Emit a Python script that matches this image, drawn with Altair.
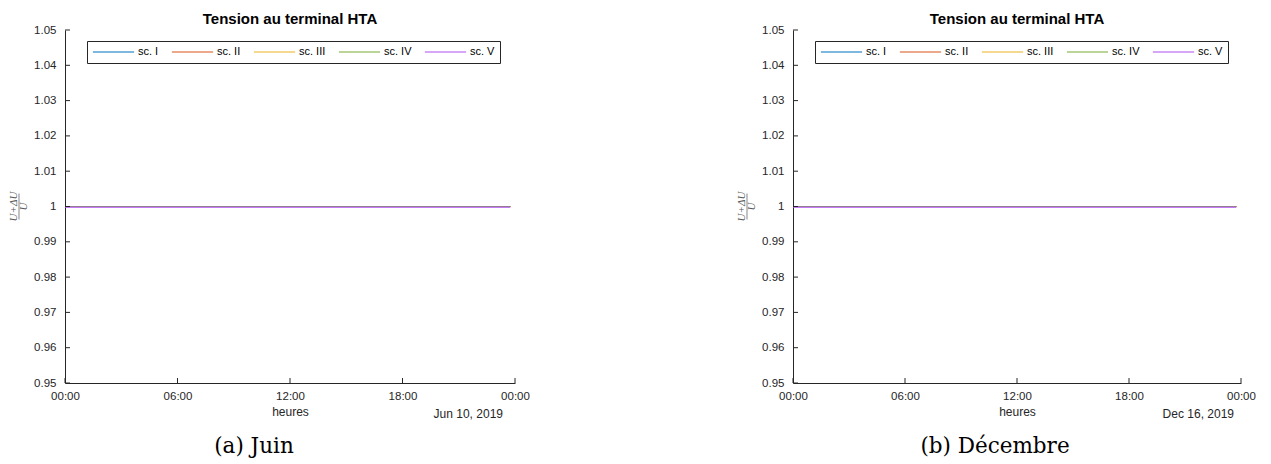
import altair as alt
import pandas as pd

# ---------------- data ----------------
scenarios = ["sc. I", "sc. II", "sc. III", "sc. IV", "sc. V"]
colors = ["#0072BD", "#D95319", "#EDB120", "#77AC30", "#B04FF0"]

# quarter-hour time stamps of one day (the curves stop at 23:45)
quarter_hours = [f"{h:02d}:{m:02d}" for h in range(24) for m in (0, 15, 30, 45)]

# per-unit voltage level of every scenario (flat all day in both months)
tension_juin = [1.0000, 1.0000, 1.0000, 1.0000, 0.9998]
tension_decembre = [1.0000, 1.0000, 1.0000, 1.0000, 0.9998]

x_tick_hours = [0, 6, 12, 18, 24]
y_ticks = [0.95, 0.96, 0.97, 0.98, 0.99, 1.00, 1.01, 1.02, 1.03, 1.04, 1.05]

FONT = "Liberation Sans"
INK = "#262626"
W_L, W_R, H = 450, 448, 353


def panel(year, month, day, levels, date_label, caption, title, width, cap_dx, date_right):
    iso = f"{year:04d}-{month:02d}-{day:02d}"
    rows = [
        {"t": f"{iso}T{q}:00", "sc": s, "v": lv}
        for s, lv in zip(scenarios, levels)
        for q in quarter_hours
    ]
    df = pd.DataFrame(rows)
    start = alt.DateTime(year=year, month=month, date=day, hours=0)
    end = alt.DateTime(year=year, month=month, date=day + 1, hours=0)
    tick_vals = [
        alt.DateTime(year=year, month=month, date=day + h // 24, hours=h % 24)
        for h in x_tick_hours
    ]
    xscale = alt.Scale(domain=[start, end])
    yscale = alt.Scale(domain=[0.95, 1.05])
    x_axis = alt.Axis(
        values=tick_vals, format="%H:%M", ticks=False, grid=False,
        domainColor=INK, domainWidth=1, labelFont=FONT, labelFontSize=11.5,
        labelColor=INK, labelPadding=7, labelFlush=False, labelOverlap=False,
        title="heures", titleFont=FONT, titleFontSize=12,
        titleFontWeight="normal", titleColor=INK, titlePadding=5,
    )
    y_axis = alt.Axis(
        values=y_ticks, labelExpr="format(datum.value, '.2~f')",
        ticks=False, grid=False, domainColor=INK, domainWidth=1,
        labelFont=FONT, labelFontSize=11.5, labelColor=INK,
        labelPadding=9, labelOverlap=False, title=None,
    )

    lines = alt.Chart(df).mark_line(strokeWidth=1.2, clip=True).encode(
        x=alt.X("t:T", scale=xscale, axis=x_axis),
        y=alt.Y("v:Q", scale=yscale, axis=y_axis),
        color=alt.Color(
            "sc:N",
            scale=alt.Scale(domain=scenarios, range=colors),
            legend=alt.Legend(
                orient="none", legendX=22, legendY=11, direction="horizontal",
                columns=5, title=None, symbolType="stroke", symbolSize=1700,
                symbolStrokeWidth=1.2, labelFont=FONT, labelFontSize=11,
                labelColor="#000000", labelOffset=3, columnPadding=12,
                padding=5, strokeColor=INK, fillColor="white", clipHeight=12,
                cornerRadius=0, labelLimit=80,
            ),
        ),
    )

    xt = pd.DataFrame({"t": [
        f"{year:04d}-{month:02d}-{day + h // 24:02d}T{h % 24:02d}:00:00" for h in x_tick_hours
    ]})
    xticks = alt.Chart(xt).mark_rule(color=INK, strokeWidth=1).encode(
        x=alt.X("t:T", scale=xscale, axis=x_axis),
        y=alt.value(H),
        y2=alt.value(H - 5),
    )
    yt = pd.DataFrame({"v": y_ticks})
    yticks = alt.Chart(yt).mark_rule(color=INK, strokeWidth=1).encode(
        y=alt.Y("v:Q", scale=yscale, axis=y_axis),
        x=alt.value(0),
        x2=alt.value(5),
    )

    one = pd.DataFrame({"a": [0]})
    title_txt = alt.Chart(one).mark_text(
        text=title, font=FONT, fontSize=15, fontWeight="bold", color="#000000",
        align="center", baseline="middle"
    ).encode(x=alt.value(width / 2), y=alt.value(-11))
    date_txt = alt.Chart(one).mark_text(
        text=date_label, font=FONT, fontSize=12, color=INK, align="right", baseline="middle"
    ).encode(x=alt.value(date_right), y=alt.value(H + 31))
    cap_txt = alt.Chart(one).mark_text(
        text=caption, font="DejaVu Serif", fontSize=21.5, color="#000000",
        align="center", baseline="middle"
    ).encode(x=alt.value(width / 2 + cap_dx), y=alt.value(H + 64))
    num_txt = alt.Chart(one).mark_text(
        text="U+ΔU", font="Liberation Serif", fontSize=11, fontStyle="italic",
        color="#555555", angle=270, align="center", baseline="middle"
    ).encode(x=alt.value(-51), y=alt.value(H / 2))
    den_txt = alt.Chart(one).mark_text(
        text="U", font="Liberation Serif", fontSize=11, fontStyle="italic",
        color="#555555", angle=270, align="center", baseline="middle"
    ).encode(x=alt.value(-41), y=alt.value(H / 2))
    bar = alt.Chart(one).mark_rule(color="#555555", strokeWidth=0.7).encode(
        x=alt.value(-46), y=alt.value(H / 2 - 13), y2=alt.value(H / 2 + 13)
    )

    return alt.layer(
        lines, xticks, yticks, title_txt, date_txt, cap_txt, num_txt, bar, den_txt
    ).properties(width=width, height=H)


TITLE = "Tension au terminal HTA"
left = panel(2019, 6, 10, tension_juin, "Jun 10, 2019", "(a) Juin", TITLE, W_L, -36, 438)
right = panel(2019, 12, 16, tension_decembre, "Dec 16, 2019", "(b) Décembre", TITLE, W_R, -22, 441)

chart = alt.hconcat(left, right, spacing=206).resolve_legend(color="independent").properties(
    padding={"left": 0, "top": 4, "right": 0, "bottom": 0}
).configure_view(stroke=None)

chart.save("out.html", embed_options={"renderer": "svg", "actions": False})
